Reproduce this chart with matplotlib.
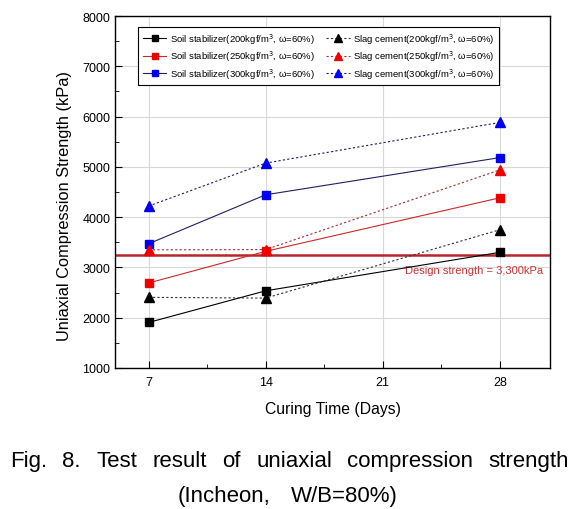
import matplotlib.pyplot as plt
from matplotlib.ticker import MultipleLocator

plt.rcParams['font.family'] = ['Liberation Sans', 'DejaVu Sans']

# curing time (days)
days = [7, 14, 28]

# uniaxial compression strength (kPa)
soil_200 = [1905, 2535, 3300]
soil_250 = [2690, 3320, 4385]
soil_300 = [3470, 4445, 5185]
slag_200 = [2405, 2390, 3750]
slag_250 = [3350, 3355, 4940]
slag_300 = [4220, 5075, 5885]

design_line = 3240
design_label = 'Design strength = 3,300kPa'

caption1 = 'Fig. 8. Test result of uniaxial compression strength'
caption2 = '(Incheon, W/B=80%)'

fig = plt.figure(figsize=(5.87, 5.10), dpi=100)
ax = fig.add_axes([0.196, 0.2765, 0.741, 0.690])

ax.grid(True, color='#d8d8d8', lw=0.8, zorder=0)
ax.axhline(design_line, color='#b8262a', lw=1.8, zorder=2)
ax.text(30.6, 2940, design_label, color='#c83434', fontsize=8, ha='right', va='center')

sq = dict(marker='s', ms=6, lw=0.8, zorder=3)
tr = dict(marker='^', ms=7, lw=0.8, ls=(0, (2, 2)), zorder=3)

h1, = ax.plot(days, soil_200, color='black', mfc='black', **sq)
h2, = ax.plot(days, soil_250, color='#cc2828', mfc='#ee0000', mec='#ee0000', **sq)
h3, = ax.plot(days, soil_300, color='#202060', mfc='#0000ee', mec='#0000ee', **sq)
h4, = ax.plot(days, slag_200, color='#333333', mfc='black', mec='black', **tr)
h5, = ax.plot(days, slag_250, color='#a03030', mfc='#ee0000', mec='#ee0000', **tr)
h6, = ax.plot(days, slag_300, color='#202060', mfc='#0000ee', mec='#0000ee', **tr)

labels = ['Soil stabilizer(200kgf/m$^3$, \u03c9=60%)',
          'Soil stabilizer(250kgf/m$^3$, \u03c9=60%)',
          'Soil stabilizer(300kgf/m$^3$, \u03c9=60%)',
          'Slag cement(200kgf/m$^3$, \u03c9=60%)',
          'Slag cement(250kgf/m$^3$, \u03c9=60%)',
          'Slag cement(300kgf/m$^3$, \u03c9=60%)']
leg = ax.legend([h1, h2, h3, h4, h5, h6], labels, ncol=2, loc='upper left',
                bbox_to_anchor=(0.043, 0.983), fontsize=6.8, fancybox=False,
                edgecolor='black', framealpha=1, handlelength=2.5,
                columnspacing=1.2, handletextpad=0.4, borderpad=0.45,
                labelspacing=0.3, markerscale=0.8)
leg.get_frame().set_linewidth(0.8)

ax.set_xlim(5, 31)
ax.set_ylim(1000, 8000)
ax.set_xticks([7, 14, 21, 28])
ax.xaxis.set_minor_locator(MultipleLocator(3.5))
ax.yaxis.set_major_locator(MultipleLocator(1000))
ax.yaxis.set_minor_locator(MultipleLocator(500))
ax.tick_params(which='both', direction='in', labelsize=9)
ax.tick_params(which='major', length=5)
ax.tick_params(which='minor', length=3)
ax.tick_params(axis='x', pad=6)
ax.xaxis.set_minor_formatter(plt.NullFormatter())
for s in ax.spines.values():
    s.set_linewidth(1.0)

ax.set_xlabel('Curing Time (Days)', fontsize=11.3, labelpad=9)
ax.set_ylabel('Uniaxial Compression Strength (kPa)', fontsize=11.8)
ax.yaxis.set_label_coords(-0.10, 0.463)

# caption, words spread over the same width as the original
renderer = fig.canvas.get_renderer()
W = fig.bbox.width
for text, y, x0, x1 in [(caption1, 0.0843, 10, 569), (caption2, 0.0157, 178, 398)]:
    words = text.split()
    ts = [fig.text(0, y, w, fontsize=16, va='baseline') for w in words]
    widths = [t.get_window_extent(renderer).width for t in ts]
    gap = (x1 - x0 - sum(widths)) / (len(words) - 1)
    x = x0
    for t, w in zip(ts, widths):
        t.set_x(x / W)
        x += w + gap

fig.savefig('out.png', dpi=100)
